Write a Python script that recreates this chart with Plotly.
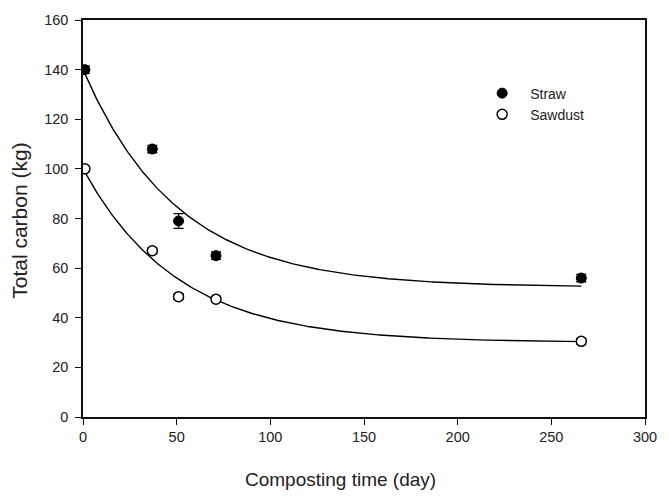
import numpy as np
import plotly.graph_objects as go

# Composting days and measured total carbon (kg) with standard errors
days = [1, 37, 51, 71, 266]
straw_carbon = [140.0, 108.0, 79.0, 65.0, 56.0]
straw_err = [1.5, 1.5, 3.0, 1.5, 1.5]
sawdust_carbon = [100.0, 67.0, 48.5, 47.5, 30.5]
sawdust_err = [1.0, 1.2, 1.2, 1.0, 1.2]

# First-order decay fits: C(t) = c_inf + c_deg * exp(-k t)
straw_fit = {"c_inf": 52.3, "c_deg": 87.7, "k": 0.0199}
sawdust_fit = {"c_inf": 30.0, "c_deg": 70.0, "k": 0.0198}

x_ticks = [0, 50, 100, 150, 200, 250, 300]
y_ticks = [0, 20, 40, 60, 80, 100, 120, 140, 160]

FONT = "Liberation Sans, Arial, sans-serif"

t_fit = np.linspace(0, 266, 300)


def decay(p):
    return p["c_inf"] + p["c_deg"] * np.exp(-p["k"] * t_fit)


fig = go.Figure()

for p in (straw_fit, sawdust_fit):
    fig.add_trace(go.Scatter(
        x=t_fit, y=decay(p), mode="lines",
        line=dict(color="black", width=1.4),
        showlegend=False, hoverinfo="skip",
    ))

fig.add_trace(go.Scatter(
    x=days, y=straw_carbon, mode="markers", name="Straw",
    marker=dict(symbol="circle", size=10, color="black",
                line=dict(color="black", width=1)),
    error_y=dict(type="data", array=straw_err, color="black",
                 thickness=1.3, width=5),
))
fig.add_trace(go.Scatter(
    x=days, y=sawdust_carbon, mode="markers", name="Sawdust",
    marker=dict(symbol="circle", size=10, color="white",
                line=dict(color="black", width=1.5)),
    error_y=dict(type="data", array=sawdust_err, color="black",
                 thickness=1.3, width=5),
))

axis_common = dict(
    showgrid=False, zeroline=False,
    showline=True, linecolor="#111", linewidth=1.5, mirror=True,
    ticks="outside", ticklen=6, tickwidth=1.3, tickcolor="#111",
    tickfont=dict(family=FONT, size=14.5, color="#222"),
)

title_font = dict(family=FONT, color="#222")

fig.update_layout(
    width=669, height=496,
    margin=dict(l=83, r=13, t=15, b=79),
    paper_bgcolor="white", plot_bgcolor="white",
    xaxis=dict(range=[0, 300], tickvals=x_ticks, **axis_common),
    yaxis=dict(range=[0, 160], tickvals=y_ticks, ticklabelstandoff=4,
               **axis_common),
    legend=dict(
        x=0.696, y=0.855, xanchor="left", yanchor="top",
        bgcolor="rgba(0,0,0,0)", itemwidth=46,
        font=dict(family=FONT, size=14, color="#222"),
        tracegroupgap=0,
    ),
    annotations=[
        dict(text="Composting time (day)", xref="paper", yref="paper",
             x=0.459, y=-0.157, xanchor="center", yanchor="middle",
             showarrow=False, font=dict(size=19, **title_font)),
        dict(text="Total carbon (kg)", xref="paper", yref="paper",
             x=-0.1134, y=0.495, xanchor="center", yanchor="middle",
             textangle=-90, showarrow=False,
             font=dict(size=21, **title_font)),
    ],
)

fig.write_html("out.html")
